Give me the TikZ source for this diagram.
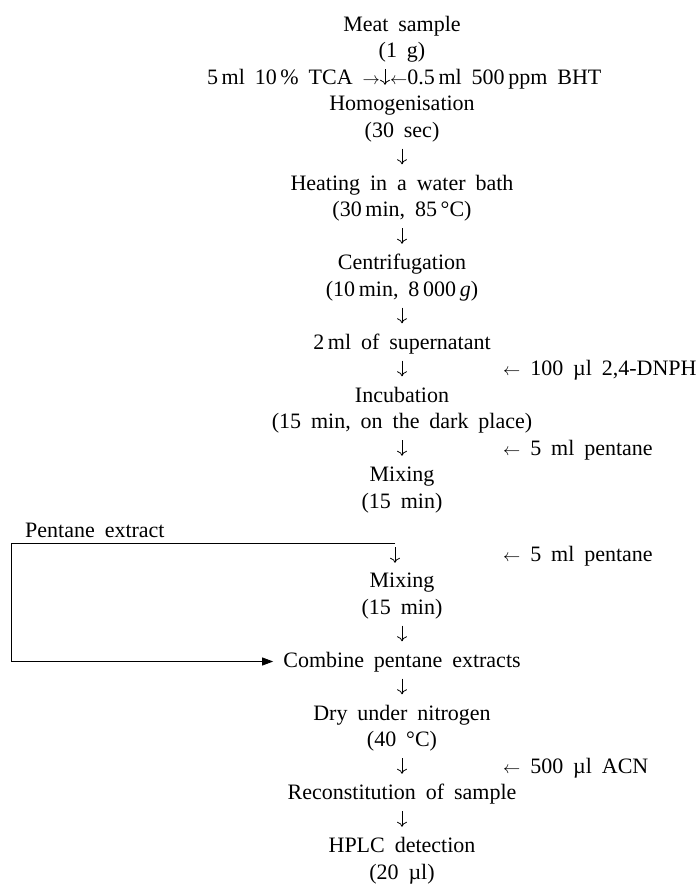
\documentclass[tikz,border=0pt]{standalone}
\usepackage{fontspec}
\setmainfont{Liberation Serif}[WordSpace=1.8]
\usetikzlibrary{arrows.meta}
\newcommand{\larr}{{\fontsize{18bp}{20bp}\selectfont$\leftarrow$}}
\newcommand{\rarr}{{\fontsize{18bp}{20bp}\selectfont$\rightarrow$}}
\begin{document}
\begin{tikzpicture}[x=1bp,y=-1bp,
  every node/.style={font=\fontsize{22bp}{26bp}\selectfont, text=black},
  t/.style={inner sep=0pt, text height=16bp, text depth=5bp, anchor=base},
  tl/.style={t, anchor=base west},
  tr/.style={t, anchor=base east},
  flow/.style={-{To[length=5bp,width=10bp]}, line width=0.8bp, shorten <=6.5bp, shorten >=9.5bp},
  back/.style={-{Triangle[length=11bp,width=8bp]}, line width=0.8bp}]
\useasboundingbox (0,0) rectangle (699,887);
% main column
\node[t] (n0)  at (402,31)    {Meat sample};
\node[t] (n1)  at (402,57.5)  {(1 g)};
\node[tr] (tcaL) at (380,84)  {5\,ml 10\,\% TCA \rarr};
\node[tl] (tcaR) at (390,84)  {\larr0.5\,ml 500\,ppm BHT};
\node[t] (n3)  at (402,110.5) {Homogenisation};
\node[t] (n4)  at (402,137)   {(30 sec)};
\node[t] (n6)  at (402,190)   {Heating in a water bath};
\node[t] (n7)  at (402,216.5) {(30\,min, 85\,°C)};
\node[t] (n9)  at (402,269.5) {Centrifugation};
\node[t] (n10) at (402,296)   {(10\,min, 8\,000\,\textit{g})};
\node[t] (n12) at (402,349)   {2\,ml of supernatant};
\node[t] (n14) at (402,402)   {Incubation};
\node[t] (n15) at (402,428.5) {(15 min, on the dark place)};
\node[t] (n17) at (402,481.5) {Mixing};
\node[t] (n18) at (402,508)   {(15 min)};
\node[tl] (pe) at (25,537)    {Pentane extract};
\node[t] (n21) at (402,587.5) {Mixing};
\node[t] (n22) at (402,614)   {(15 min)};
\node[t] (n24) at (402,667)   {Combine pentane extracts};
\node[t] (n26) at (402,720)   {Dry under nitrogen};
\node[t] (n27) at (402,746.5) {(40 °C)};
\node[t] (n29) at (402,799.5) {Reconstitution of sample};
\node[t] (n31) at (402,852.5) {HPLC detection};
\node[t] (n32) at (402,879)   {(20 µl)};
% side additions
\node[tl] (s13) at (503,375.5) {\larr{} 100 µl 2,4-DNPH};
\node[tl] (s16) at (503,455)   {\larr{} 5 ml pentane};
\node[tl] (s20) at (503,561)   {\larr{} 5 ml pentane};
\node[tl] (s28) at (503,773)   {\larr{} 500 µl ACN};
% connectors
\draw[flow] ([xshift=-17bp]n1.south) -- ([xshift=-17bp]n3.north);
\draw[flow] (n4) -- (n6);
\draw[flow] (n7) -- (n9);
\draw[flow] (n10) -- (n12);
\draw[flow] (n12) -- (n14);
\draw[flow] (n15) -- (n17);
\coordinate (split) at (395,543);
\coordinate (turn) at (11,543);
\draw[flow, shorten <=4bp, shorten >=8.5bp] (split) -- (split |- n21.north);
\draw[flow] (n22) -- (n24);
\draw[flow] (n24) -- (n26);
\draw[flow] (n27) -- (n29);
\draw[flow] (n29) -- (n31);
\draw[back, shorten >=10bp] (split) -- (turn) |- (n24.west);
\end{tikzpicture}
\end{document}
